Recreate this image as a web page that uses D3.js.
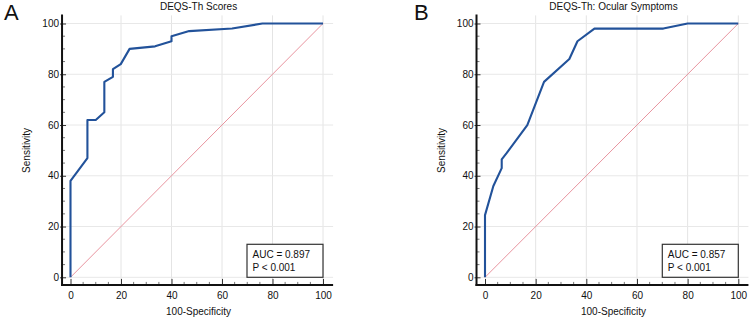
<!DOCTYPE html>
<html>
<head>
<meta charset="utf-8">
<script src="https://cdn.jsdelivr.net/npm/d3@7"></script>
<style>
    body { margin: 0; background: #fff; }
    svg text { font-family: Arial, "Liberation Sans", sans-serif; fill: #111; }
</style>
</head>
<body>
<div id="chart"></div>
<script>
// ROC data (100-Specificity, Sensitivity)
const scoresFpr = [0, 0, 6.7, 6.7, 10, 13.4, 13.4, 16.8, 16.8, 19.9, 23.4, 33.5, 40, 40, 47, 64, 76, 100];
const scoresTpr = [0, 38, 47, 62, 62, 65, 77, 79, 82, 84, 90, 91, 93, 95, 97, 98, 100, 100];
const ocularFpr = [0, 0, 3.3, 6.6, 6.6, 8.6, 16.7, 23.3, 33.3, 36.5, 43.2, 70.4, 80, 100];
const ocularTpr = [0, 24.5, 36, 43, 46.5, 49, 60, 77, 86, 93, 98, 98, 100, 100];

const panelLetters = ["A", "B"];
const panelTitles = ["DEQS-Th Scores", "DEQS-Th: Ocular Symptoms"];
const aucTexts = ["AUC = 0.897", "AUC = 0.857"];
const pTexts = ["P < 0.001", "P < 0.001"];
const majorTicks = [0, 20, 40, 60, 80, 100];
const minorTicks = d3.range(0, 101, 5).filter(d => d % 20 !== 0);

const svg = d3.select("#chart").append("svg")
    .attr("width", 750)
    .attr("height", 320);

const panels = [
    { left: 70.5, right: 323, fpr: scoresFpr, tpr: scoresTpr, letterX: 4 },
    { left: 485, right: 738.3, fpr: ocularFpr, tpr: ocularTpr, letterX: 414 }
];

const TOP = 23.5, BOTTOM = 277.3;
const FONT = "10px";

panels.forEach((p, i) => {
    const g = svg.append("g");

    const x = d3.scaleLinear().domain([0, 100]).range([p.left, p.right]);
    const y = d3.scaleLinear().domain([0, 100]).range([BOTTOM, TOP]);

    const axisX = x(-3.35);
    const axisY = y(-3);
    const gridRight = x(104);
    const axisTop = y(103.2);

    // Gridlines
    g.append("g").selectAll("line")
        .data(majorTicks.filter(d => d > 0))
        .join("line")
        .attr("x1", d => x(d)).attr("x2", d => x(d))
        .attr("y1", axisY).attr("y2", axisTop)
        .attr("stroke", "#e4e4e4").attr("stroke-width", 1);

    g.append("g").selectAll("line")
        .data(majorTicks)
        .join("line")
        .attr("x1", axisX).attr("x2", gridRight)
        .attr("y1", d => y(d)).attr("y2", d => y(d))
        .attr("stroke", "#e8e8e8").attr("stroke-width", 1);

    // Reference diagonal
    g.append("line")
        .attr("x1", x(0)).attr("y1", y(0))
        .attr("x2", x(100)).attr("y2", y(100))
        .attr("stroke", "#e8949f").attr("stroke-width", 1);

    // ROC curve
    const pts = p.fpr.map((f, k) => [f, p.tpr[k]]);
    g.append("path")
        .datum(pts)
        .attr("fill", "none")
        .attr("stroke", "#22529a")
        .attr("stroke-width", 2.1)
        .attr("stroke-linejoin", "round")
        .attr("d", d3.line().x(d => x(d[0])).y(d => y(d[1])));

    // Y axis
    const yAxis = g.append("g")
        .attr("transform", `translate(${axisX},0)`)
        .call(d3.axisLeft(y).tickValues(majorTicks).tickSize(0).tickPadding(3));
    yAxis.select(".domain").remove();
    yAxis.selectAll(".tick line").attr("x1", -2).attr("x2", 4).attr("stroke", "#333");
    yAxis.selectAll(".tick text").style("font-size", FONT);

    g.append("g").selectAll("line")
        .data(minorTicks)
        .join("line")
        .attr("x1", axisX).attr("x2", axisX + 3)
        .attr("y1", d => y(d)).attr("y2", d => y(d))
        .attr("stroke", "#777");

    // X axis
    const xAxis = g.append("g")
        .attr("transform", `translate(0,${axisY})`)
        .call(d3.axisBottom(x).tickValues(majorTicks).tickSize(0).tickPadding(6.5));
    xAxis.select(".domain").remove();
    xAxis.selectAll(".tick line").attr("y2", -6).attr("stroke", "#333");
    xAxis.selectAll(".tick text").style("font-size", FONT);

    g.append("g").selectAll("line")
        .data(minorTicks)
        .join("line")
        .attr("x1", d => x(d)).attr("x2", d => x(d))
        .attr("y1", axisY).attr("y2", axisY - 3)
        .attr("stroke", "#777");

    // Axis lines
    g.append("line")
        .attr("x1", axisX).attr("x2", axisX)
        .attr("y1", axisTop - 1).attr("y2", axisY + 1)
        .attr("stroke", "#111").attr("stroke-width", 2);
    g.append("line")
        .attr("x1", axisX - 1).attr("x2", gridRight)
        .attr("y1", axisY).attr("y2", axisY)
        .attr("stroke", "#111").attr("stroke-width", 2);

    // Titles
    g.append("text")
        .attr("x", (axisX + gridRight) / 2 + 1)
        .attr("y", 10)
        .attr("text-anchor", "middle")
        .style("font-size", FONT)
        .text(panelTitles[i]);

    g.append("text")
        .attr("x", (axisX + gridRight) / 2 + 1)
        .attr("y", 315)
        .attr("text-anchor", "middle")
        .style("font-size", FONT)
        .text("100-Specificity");

    g.append("text")
        .attr("transform", `translate(${axisX - 32},${(TOP + BOTTOM) / 2}) rotate(-90)`)
        .attr("text-anchor", "middle")
        .style("font-size", FONT)
        .text("Sensitivity");

    g.append("text")
        .attr("x", p.letterX)
        .attr("y", 20)
        .style("font-size", "22px")
        .text(panelLetters[i]);

    // AUC box
    const boxW = 76, boxH = 33;
    const bx = x(100) - boxW, by = y(0) - boxH;
    g.append("rect")
        .attr("x", bx).attr("y", by)
        .attr("width", boxW).attr("height", boxH)
        .attr("fill", "#fff")
        .attr("stroke", "#333").attr("stroke-width", 1.2);
    g.append("text")
        .attr("x", bx + 5.5).attr("y", by + 14)
        .style("font-size", FONT)
        .text(aucTexts[i]);
    g.append("text")
        .attr("x", bx + 5.5).attr("y", by + 27)
        .style("font-size", FONT)
        .text(pTexts[i]);
});
</script>
</body>
</html>
